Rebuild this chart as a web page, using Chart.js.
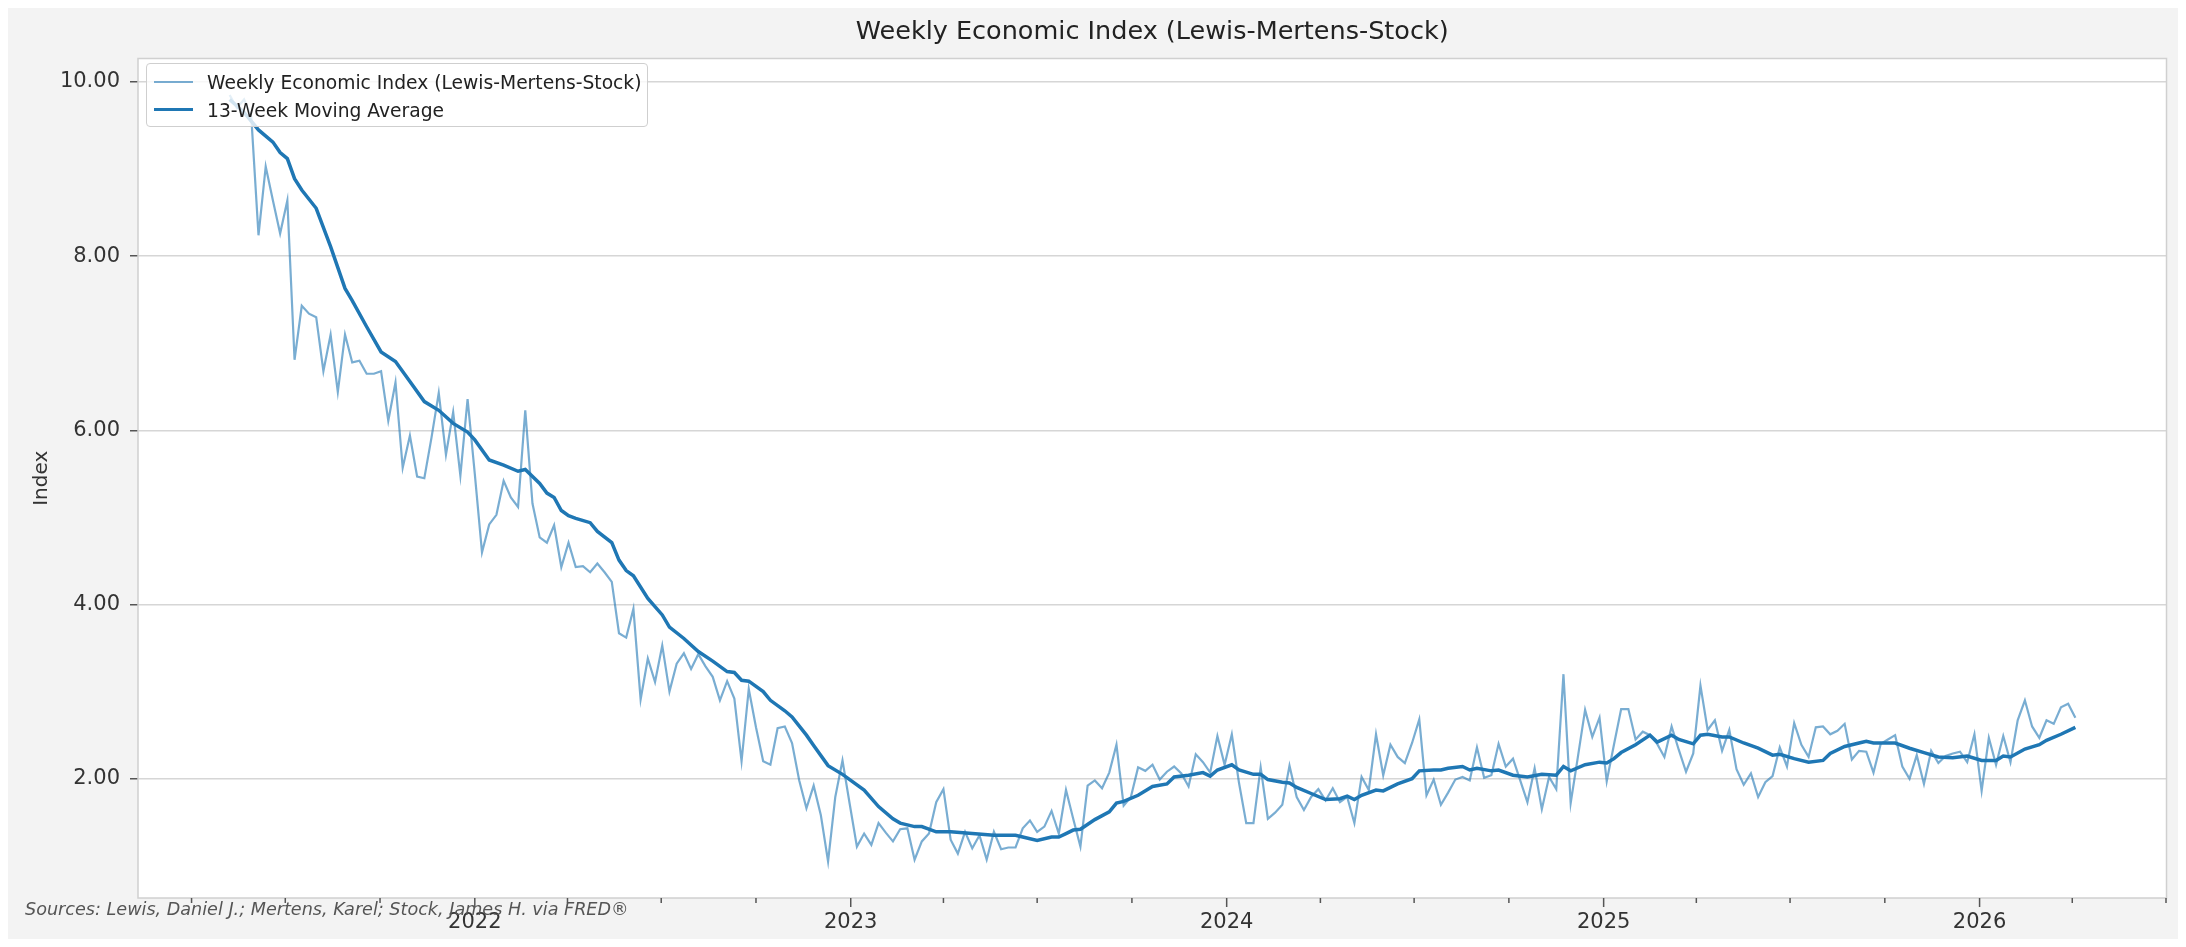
<!DOCTYPE html>
<html>
<head>
<meta charset="utf-8">
<script src="https://cdn.jsdelivr.net/npm/chart.js@4.4.1/dist/chart.umd.min.js"></script>
<style>
  html, body { margin: 0; padding: 0; background: #fff; }
  body { width: 2186px; height: 947px; position: relative; overflow: hidden; font-family: "DejaVu Sans", sans-serif; }
  #frame { position: absolute; left: 8px; top: 8px; width: 2170px; height: 931px; background: #f3f3f3; }
  #chart { position: absolute; left: 0; top: 0; }
  #legend { position: absolute; left: 138px; top: 55px; width: 502px; height: 64px; box-sizing: border-box;
            border: 1px solid #cfcfcf; border-radius: 4px; background: rgba(255,255,255,0.8); }
  .item { position: absolute; left: 0; height: 24px; width: 100%; }
  .handle { position: absolute; left: 7px; width: 39px; top: 50%; }
  .label { position: absolute; left: 60px; top: 50%; transform: translateY(-50%); font-size: 18.7px; color: #222; white-space: nowrap; }
  #source { position: absolute; left: 17px; top: 891px; font-size: 17.6px; font-style: italic; color: #555; white-space: nowrap; }
</style>
</head>
<body>
<div id="frame">
  <canvas id="chart" width="2170" height="931"></canvas>
  <div id="legend">
    <div class="item" style="top:6px"><div class="handle" style="border-top:2.5px solid rgba(31,119,180,0.6);margin-top:-1px"></div><div class="label">Weekly Economic Index (Lewis-Mertens-Stock)</div></div>
    <div class="item" style="top:34px"><div class="handle" style="border-top:3.5px solid #1f77b4;margin-top:-2px"></div><div class="label">13-Week Moving Average</div></div>
  </div>
  <div id="source">Sources: Lewis, Daniel J.; Mertens, Karel; Stock, James H. via FRED®</div>
</div>
<script>
const chartTitle = 'Weekly Economic Index (Lewis-Mertens-Stock)';
const firstWeek = [2021, 4, 8]; // first weekly observation (UTC y, m, d)

// weekly index values, one per week from firstWeek
const wei = [
  9.85, 9.70, 9.80, 9.60, 8.24, 9.03, 8.64, 8.26, 8.64, 6.81,
  7.43, 7.34, 7.30, 6.68, 7.10, 6.44, 7.10, 6.78, 6.80, 6.65,
  6.65, 6.68, 6.11, 6.55, 5.57, 5.94, 5.47, 5.45, 5.92, 6.43,
  5.72, 6.21, 5.48, 6.36, 5.50, 4.60, 4.92, 5.03, 5.42, 5.23,
  5.12, 6.23, 5.16, 4.77, 4.71, 4.91, 4.43, 4.71, 4.43, 4.44,
  4.37, 4.47, 4.37, 4.26, 3.67, 3.62, 3.95, 2.91, 3.38, 3.11,
  3.53, 3.00, 3.32, 3.44, 3.26, 3.43, 3.29, 3.17, 2.90, 3.12,
  2.92, 2.20, 3.03, 2.59, 2.20, 2.16, 2.58, 2.60, 2.41, 1.98,
  1.66, 1.92, 1.58, 1.05, 1.79, 2.21, 1.71, 1.22, 1.37, 1.24,
  1.49, 1.38, 1.28, 1.42, 1.43, 1.07, 1.28, 1.37, 1.73, 1.88,
  1.30, 1.14, 1.39, 1.20, 1.35, 1.07, 1.39, 1.19, 1.21, 1.21,
  1.43, 1.52, 1.39, 1.45, 1.63, 1.37, 1.87, 1.54, 1.22, 1.92,
  1.98, 1.89, 2.07, 2.39, 1.69, 1.79, 2.13, 2.09, 2.16, 1.99,
  2.08, 2.14, 2.06, 1.91, 2.28, 2.19, 2.07, 2.49, 2.16, 2.51,
  1.95, 1.49, 1.49, 2.13, 1.54, 1.61, 1.70, 2.15, 1.79, 1.64,
  1.79, 1.88, 1.75, 1.89, 1.73, 1.79, 1.49, 2.02, 1.87, 2.51,
  2.04, 2.39, 2.25, 2.18, 2.41, 2.68, 1.81, 1.99, 1.70, 1.84,
  1.99, 2.02, 1.98, 2.36, 2.01, 2.04, 2.40, 2.14, 2.23, 1.98,
  1.73, 2.12, 1.65, 2.02, 1.88, 3.20, 1.72, 2.25, 2.79, 2.48,
  2.70, 1.97, 2.39, 2.80, 2.80, 2.45, 2.54, 2.50, 2.40, 2.25,
  2.60, 2.33, 2.08, 2.29, 3.07, 2.56, 2.67, 2.32, 2.56, 2.11,
  1.93, 2.06, 1.79, 1.96, 2.03, 2.36, 2.14, 2.64, 2.39, 2.25,
  2.59, 2.60, 2.51, 2.55, 2.63, 2.22, 2.32, 2.31, 2.07, 2.40,
  2.45, 2.50, 2.14, 2.00, 2.27, 1.94, 2.32, 2.18, 2.26, 2.29,
  2.31, 2.19, 2.51, 1.86, 2.47, 2.16, 2.49, 2.19, 2.67, 2.90,
  2.60, 2.47, 2.67, 2.63, 2.82, 2.86, 2.70
];

// 13-week moving average: [week number, value]
const maReadings = [
  [0, 9.80], [2, 9.65], [4, 9.45], [6, 9.31], [7, 9.19], [8, 9.12], [9, 8.89], [10, 8.76],
  [12, 8.55], [14, 8.11], [16, 7.63], [17, 7.49], [19, 7.19], [21, 6.90], [23, 6.79], [25, 6.56],
  [27, 6.33], [29, 6.23], [31, 6.08], [33, 5.98], [34, 5.89], [36, 5.66], [38, 5.60], [40, 5.53],
  [41, 5.55], [43, 5.39], [44, 5.28], [45, 5.23], [46, 5.08], [47, 5.02], [48, 4.99], [50, 4.94],
  [51, 4.84], [53, 4.71], [54, 4.51], [55, 4.39], [56, 4.33], [58, 4.07], [60, 3.88], [61, 3.74],
  [63, 3.61], [65, 3.46], [67, 3.35], [69, 3.23], [70, 3.22], [71, 3.13], [72, 3.12], [74, 3.00],
  [75, 2.90], [77, 2.78], [78, 2.71], [80, 2.50], [81, 2.38], [83, 2.15], [85, 2.05], [88, 1.87],
  [90, 1.68], [92, 1.54], [93, 1.49], [95, 1.45], [96, 1.45], [98, 1.39], [100, 1.39], [103, 1.37],
  [106, 1.35], [109, 1.35], [110, 1.33], [112, 1.29], [114, 1.33], [115, 1.33], [116, 1.37], [117, 1.41],
  [118, 1.42], [120, 1.53], [122, 1.62], [123, 1.72], [124, 1.74], [126, 1.81], [128, 1.91], [130, 1.94],
  [131, 2.02], [133, 2.04], [135, 2.07], [136, 2.03], [137, 2.10], [139, 2.16], [140, 2.10], [142, 2.05],
  [143, 2.05], [144, 1.99], [146, 1.96], [147, 1.95], [148, 1.90], [150, 1.83], [152, 1.76], [154, 1.77],
  [155, 1.80], [156, 1.76], [157, 1.81], [159, 1.87], [160, 1.86], [162, 1.94], [164, 2.00], [165, 2.09],
  [167, 2.10], [168, 2.10], [169, 2.12], [171, 2.14], [172, 2.10], [173, 2.12], [175, 2.09], [176, 2.10],
  [178, 2.04], [180, 2.02], [182, 2.05], [184, 2.04], [185, 2.14], [186, 2.09], [188, 2.16], [190, 2.19],
  [191, 2.18], [192, 2.23], [193, 2.30], [195, 2.39], [197, 2.50], [198, 2.42], [200, 2.50], [201, 2.45],
  [203, 2.40], [204, 2.50], [205, 2.51], [207, 2.48], [208, 2.48], [210, 2.41], [212, 2.35], [214, 2.27],
  [215, 2.28], [217, 2.23], [219, 2.19], [221, 2.21], [222, 2.29], [224, 2.37], [226, 2.41], [227, 2.43],
  [228, 2.41], [230, 2.41], [231, 2.41], [233, 2.35], [235, 2.30], [237, 2.25], [239, 2.24], [241, 2.26],
  [243, 2.21], [245, 2.21], [246, 2.26], [247, 2.25], [249, 2.34], [251, 2.39], [252, 2.44], [254, 2.51],
  [256, 2.59]
];

const yTicks = [2, 4, 6, 8, 10];
const tickYears = [2021, 2022, 2023, 2024, 2025, 2026];

// x axis is in days since epoch
const DAY = 86400000;
const dayOf = (y, m, d) => Date.UTC(y, m, d) / DAY;
const start = dayOf(firstWeek[0], firstWeek[1], firstWeek[2]);
const xMin = dayOf(2022, 0, 1) - 327;
const xMax = dayOf(2026, 0, 1) + 181.5;

const weiPoints = wei.map((v, i) => ({ x: start + 7 * i, y: v }));
const maPoints = maReadings.map(([w, v]) => ({ x: start + 7 * w, y: v }));

const tickFont = { family: 'DejaVu Sans', size: 21 };

const plotFrame = {
  id: 'plotFrame',
  beforeDraw(chart) {
    const { ctx, chartArea: a } = chart;
    ctx.save();
    ctx.fillStyle = '#ffffff';
    ctx.fillRect(a.left, a.top, a.right - a.left, a.bottom - a.top);
    ctx.restore();
  },
  afterDraw(chart) {
    const { ctx, chartArea: a, scales } = chart;
    ctx.save();
    ctx.strokeStyle = '#d0d0d0';
    ctx.lineWidth = 1.5;
    ctx.strokeRect(a.left, a.top, a.right - a.left, a.bottom - a.top);
    // quarter tick marks, longer at years
    ctx.strokeStyle = '#555';
    ctx.lineWidth = 1.5;
    scales.x.ticks.forEach(t => {
      const px = scales.x.getPixelForValue(t.value);
      const len = t.label ? 9 : 5;
      ctx.beginPath();
      ctx.moveTo(px, a.bottom);
      ctx.lineTo(px, a.bottom + len);
      ctx.stroke();
    });
    ctx.fillStyle = '#222';
    ctx.font = '25.5px "DejaVu Sans"';
    ctx.textAlign = 'center';
    ctx.textBaseline = 'middle';
    ctx.fillText(chartTitle, (a.left + a.right) / 2, 24);
    ctx.restore();
  }
};

const ctx = document.getElementById('chart').getContext('2d');
new Chart(ctx, {
  type: 'line',
  data: {
    datasets: [
      {
        label: '13-Week Moving Average',
        data: maPoints,
        borderColor: '#1f77b4',
        borderWidth: 3.5,
        pointRadius: 0,
        fill: false,
        order: 0
      },
      {
        label: chartTitle,
        data: weiPoints,
        borderColor: 'rgba(31, 119, 180, 0.6)',
        borderWidth: 2.2,
        pointRadius: 0,
        fill: false,
        order: 1
      }
    ]
  },
  options: {
    responsive: false,
    animation: false,
    layout: { padding: { left: 0, right: 11, top: 50.5, bottom: 0 } },
    plugins: {
      legend: { display: false },
      tooltip: { enabled: false },
      title: { display: false }
    },
    scales: {
      x: {
        type: 'linear',
        min: xMin,
        max: xMax,
        afterFit(s) { s.height = 41; },
        afterBuildTicks(s) {
          const t = [];
          tickYears.forEach(y => [0, 3, 6, 9].forEach(m => {
            const v = dayOf(y, m, 1);
            if (v >= xMin && v <= xMax) t.push({ value: v });
          }));
          s.ticks = t;
        },
        ticks: {
          autoSkip: false,
          maxRotation: 0,
          padding: 12,
          color: '#333',
          font: tickFont,
          callback(v) {
            const d = new Date(v * DAY);
            return d.getUTCMonth() === 0 ? String(d.getUTCFullYear()) : '';
          }
        },
        grid: { display: false, drawTicks: false },
        border: { display: false }
      },
      y: {
        min: 0.63,
        max: 10.27,
        afterFit(s) { s.width = 130; },
        afterBuildTicks(s) { s.ticks = yTicks.map(v => ({ value: v })); },
        ticks: {
          padding: 10,
          color: '#333',
          font: tickFont,
          callback: v => v.toFixed(2)
        },
        grid: { color: '#d6d6d6', lineWidth: 1.5, tickLength: 8, tickColor: '#555', tickWidth: 1.5 },
        border: { display: false },
        title: {
          display: true,
          text: 'Index',
          color: '#333',
          font: { family: 'DejaVu Sans', size: 20 },
          padding: { top: 22, bottom: 0 }
        }
      }
    }
  },
  plugins: [plotFrame]
});
</script>
</body>
</html>
